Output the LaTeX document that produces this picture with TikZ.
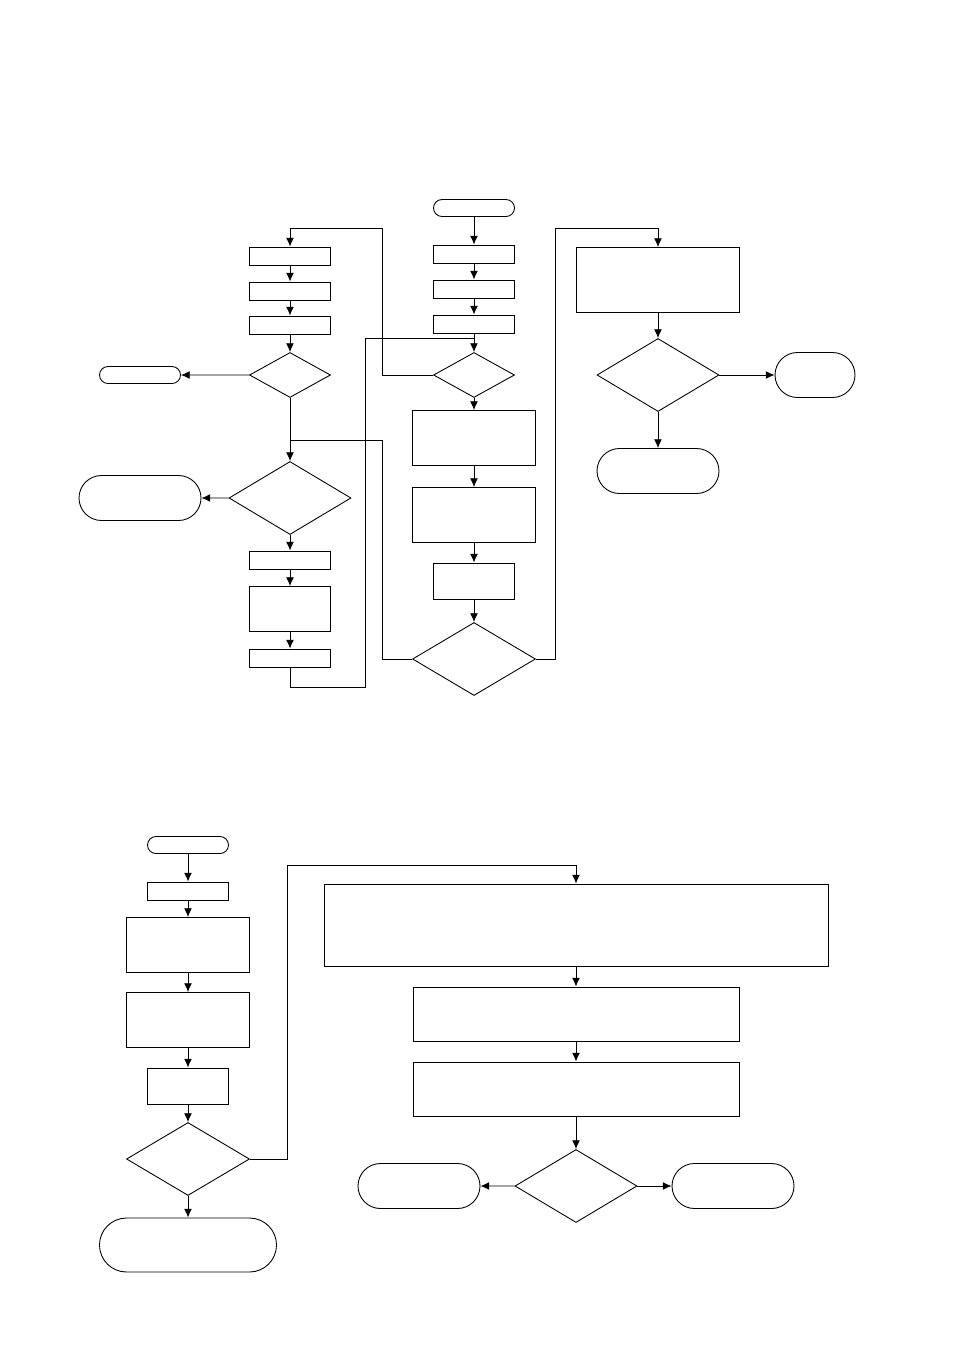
\documentclass[tikz,border=0pt]{standalone}
\usetikzlibrary{shapes.geometric,shapes.misc,arrows.meta}
\begin{document}
\begin{tikzpicture}[>={Latex[length=5pt,width=4.5pt]}, x=0.02cm, y=-0.02cm, line width=0.5pt,
  box/.style 2 args={rectangle, draw, inner sep=0pt, minimum width=#1*0.02cm, minimum height=#2*0.02cm},
  term/.style 2 args={rounded rectangle, draw, inner sep=0pt, minimum width=#1*0.02cm, minimum height=#2*0.02cm},
  dia/.style n args={3}{diamond, draw, inner sep=0pt, aspect=#3, minimum width=#1*0.02cm, minimum height=#2*0.02cm}]

\useasboundingbox (0,0) rectangle (954,1352);

% upper chart, middle column
\node[term={81}{17}] (start) at (474,208) {};
\node[box={81}{18}] (m1) at (474,254) {};
\node[box={81}{18}] (m2) at (474,289) {};
\node[box={81}{18}] (m3) at (474,324) {};
\node[dia={81}{45}{1.8}] (md1) at (474,375) {};
\node[box={123}{55}] (m4) at (474,438) {};
\node[box={123}{55}] (m5) at (474,515) {};
\node[box={81}{36}] (m6) at (474,581) {};
\node[dia={123}{73}{1.68}] (md2) at (474,659) {};

% upper chart, left column
\node[box={81}{18}] (l1) at (290,256) {};
\node[box={81}{18}] (l2) at (290,291) {};
\node[box={81}{18}] (l3) at (290,325) {};
\node[dia={81}{45}{1.8}] (ld1) at (290,375) {};
\node[term={81}{17}] (lend) at (140,375) {};
\node[dia={122}{73}{1.67}] (ld2) at (290,498) {};
\node[term={122}{45}] (lterm) at (140,498) {};
\node[box={81}{18}] (l4) at (290,560) {};
\node[box={81}{45}] (l5) at (290,609) {};
\node[box={81}{18}] (l6) at (290,658) {};

% upper chart, right column
\node[box={163}{65}] (r1) at (658,280) {};
\node[dia={122}{73}{1.67}] (rd) at (658,375) {};
\node[term={80}{45}] (rterm1) at (815,375) {};
\node[term={122}{45}] (rterm2) at (658,471) {};

\draw[->] (start) -- (m1);
\draw[->] (m1) -- (m2);
\draw[->] (m2) -- (m3);
\draw[->] (m3) -- (md1);
\draw[->] (md1) -- (m4);
\draw[->] (m4) -- (m5);
\draw[->] (m5) -- (m6);
\draw[->] (m6) -- (md2);
\draw (l6.south) |- (365,687) |- (474,338);
\draw[->] (md1.west) -- (382,375) |- (290,228) -- (l1.north);
\draw[->] (l1) -- (l2);
\draw[->] (l2) -- (l3);
\draw[->] (l3) -- (ld1);
\draw[->] (ld1) -- (lend);
\draw[->] (ld1) -- (ld2);
\draw (md2.west) -- (382,659) |- (290,440);
\draw[->] (ld2) -- (lterm);
\draw[->] (ld2) -- (l4);
\draw[->] (l4) -- (l5);
\draw[->] (l5) -- (l6);
\draw[->] (md2.east) -- (555,659) |- (658,228) -- (r1.north);
\draw[->] (r1) -- (rd);
\draw[->] (rd) -- (rterm1);
\draw[->] (rd) -- (rterm2);

% lower chart
\node[term={81}{17}] (bstart) at (188,845) {};
\node[box={81}{18}] (b1) at (188,891) {};
\node[box={123}{55}] (b2) at (188,945) {};
\node[box={123}{55}] (b3) at (188,1020) {};
\node[box={81}{36}] (b4) at (188,1086) {};
\node[dia={123}{73}{1.68}] (bd1) at (188,1159) {};
\node[term={177}{54}] (bend) at (188,1245) {};
\node[box={504}{82}] (c1) at (576,925) {};
\node[box={326}{54}] (c2) at (576,1014) {};
\node[box={326}{54}] (c3) at (576,1089) {};
\node[dia={122}{73}{1.67}] (cd) at (576,1186) {};
\node[term={122}{45}] (cterm1) at (419,1186) {};
\node[term={122}{45}] (cterm2) at (733,1186) {};

\draw[->] (bstart) -- (b1);
\draw[->] (b1) -- (b2);
\draw[->] (b2) -- (b3);
\draw[->] (b3) -- (b4);
\draw[->] (b4) -- (bd1);
\draw[->] (bd1) -- (bend);
\draw[->] (bd1.east) -- (287,1159) |- (576,865) -- (c1.north);
\draw[->] (c1) -- (c2);
\draw[->] (c2) -- (c3);
\draw[->] (c3) -- (cd);
\draw[->] (cd) -- (cterm1);
\draw[->] (cd) -- (cterm2);

\end{tikzpicture}
\end{document}
